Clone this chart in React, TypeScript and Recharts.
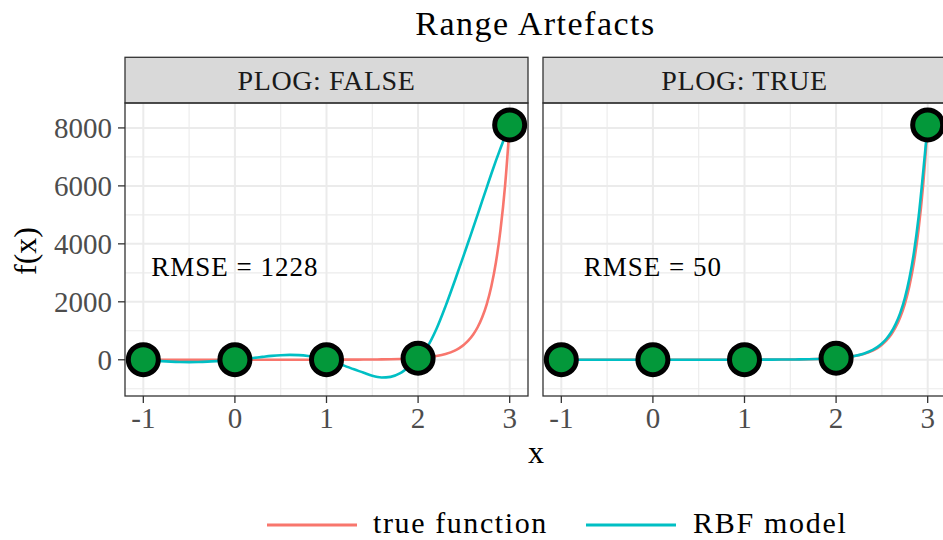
import React from 'react';
import { ComposedChart, Line, Scatter, XAxis, YAxis, CartesianGrid, ReferenceDot } from 'recharts';

// x positions of the drawn curves
const xGrid = [
  -1.0, -0.9, -0.8, -0.7, -0.6, -0.5, -0.4, -0.3, -0.2, -0.1,
  0.0, 0.1, 0.2, 0.3, 0.4, 0.5, 0.6, 0.7, 0.8, 0.9,
  1.0, 1.1, 1.2, 1.3, 1.4, 1.5, 1.6, 1.7, 1.8, 1.9,
  2.0, 2.1, 2.2, 2.3, 2.4, 2.45, 2.5, 2.55, 2.6, 2.65,
  2.7, 2.75, 2.8, 2.85, 2.9, 2.95, 3.0,
];

// true function values
const trueFunction = [
  2.7, 2.2, 1.9, 1.6, 1.4, 1.3, 1.2, 1.1, 1.0, 1.0,
  1.0, 1.0, 1.0, 1.1, 1.2, 1.3, 1.4, 1.6, 1.9, 2.2,
  2.7, 3.4, 4.2, 5.4, 7.1, 9.5, 13, 18, 26, 37,
  55, 82, 127, 198, 317, 405, 518, 667, 863, 1122,
  1466, 1924, 2540, 3367, 4492, 6019, 8103,
];

// RBF model, PLOG: FALSE (teal curve, left panel)
const rbfPlogFalse = [
  3, -25, -48, -65, -76, -80, -76, -64, -45, -22,
  1, 30, 64, 100, 133, 157, 168, 160, 130, 78,
  3, -95, -210, -330, -440, -555, -612, -590, -470, -240,
  55, 440, 1060, 1850, 2720, 3170, 3620, 4080, 4540, 5010,
  5480, 5950, 6420, 6870, 7300, 7710, 8103,
];

// RBF model, PLOG: TRUE (teal curve, right panel)
const rbfPlogTrue = [
  2.7, 2.2, 1.9, 1.6, 1.4, 1.3, 1.2, 1.1, 1.0, 1.0,
  1.0, 1.0, 1.0, 1.1, 1.2, 1.3, 1.4, 1.6, 1.9, 2.2,
  2.7, 3.4, 4.2, 5.4, 7.1, 9.5, 13, 18, 26, 38,
  55, 85, 132, 210, 340, 435, 560, 725, 940, 1230,
  1610, 2120, 2800, 3700, 4900, 6450, 8103,
];

// design points
const designX = [-1, 0, 1, 2, 3];
const designY = [2.7, 1, 2.7, 54.6, 8103];

const xTicks = [-1, 0, 1, 2, 3];
const xMinor = [-0.5, 0.5, 1.5, 2.5];
const yTicks = [0, 2000, 4000, 6000, 8000];
const yMinor = [-1000, 1000, 3000, 5000, 7000];

const panelTitles = ['PLOG: FALSE', 'PLOG: TRUE'];
const rmseLabels = ['RMSE = 1228', 'RMSE = 50'];
const rmseAnchor = { x: 0, y: 2900 };

const seriesNames = ['true function', 'RBF model'];
const RED = '#F8766D';
const TEAL = '#00BFC4';
const GREEN = '#03983A';
const FONT = '"Liberation Serif", "Times New Roman", serif';

const X_DOMAIN: [number, number] = [-1.2, 3.2];
const Y_DOMAIN: [number, number] = [-1250, 8860];

const points = designX.map((x, i) => ({ x, y: designY[i] }));

function buildRows(model: number[]) {
  return xGrid.map((x, i) => ({ x, tru: trueFunction[i], rbf: model[i] }));
}

const PointShape = (props: any) => (
  <circle cx={props.cx} cy={props.cy} r={15} fill={GREEN} stroke="#000" strokeWidth={5} />
);

const RmseLabel = (props: any) => {
  const vb = props.viewBox || {};
  const cx = (vb.x ?? 0) + (vb.width ?? 0) / 2;
  const cy = (vb.y ?? 0) + (vb.height ?? 0) / 2;
  return (
    <text x={cx} y={cy} textAnchor="middle" fontFamily={FONT} fontSize={27} fill="#000" style={{ letterSpacing: '1px' }}>
      {props.text}
    </text>
  );
};

function Panel(props: { model: number[]; rmse: string; showY: boolean; width: number; marginLeft: number; marginRight: number }) {
  const rows = buildRows(props.model);
  return (
    <ComposedChart
      width={props.width}
      height={540}
      data={rows}
      margin={{ top: 103, right: props.marginRight, bottom: 104, left: props.marginLeft }}
    >
      <CartesianGrid horizontalValues={yMinor} verticalValues={xMinor} stroke="#EBEBEB" strokeWidth={1.1} />
      <CartesianGrid horizontalValues={yTicks} verticalValues={xTicks} stroke="#EBEBEB" strokeWidth={2} />
      <XAxis
        type="number"
        dataKey="x"
        domain={X_DOMAIN}
        ticks={xTicks}
        interval={0}
        allowDataOverflow
        height={40}
        axisLine={false}
        tickSize={7}
        tickMargin={4}
        tickLine={{ stroke: '#333333', strokeWidth: 1.3 }}
        tick={{ fontSize: 29, fill: '#4D4D4D', fontFamily: FONT }}
      />
      <YAxis
        type="number"
        domain={Y_DOMAIN}
        ticks={yTicks}
        interval={0}
        allowDataOverflow
        hide={!props.showY}
        width={125}
        axisLine={false}
        tickSize={7}
        tickMargin={6}
        tickLine={{ stroke: '#333333', strokeWidth: 1.3 }}
        tick={{ fontSize: 29, fill: '#4D4D4D', fontFamily: FONT }}
      />
      <Line type="monotone" dataKey="tru" stroke={RED} strokeWidth={2.6} dot={false} isAnimationActive={false} />
      <Line type="monotone" dataKey="rbf" stroke={TEAL} strokeWidth={2.6} dot={false} isAnimationActive={false} />
      <ReferenceDot
        x={rmseAnchor.x}
        y={rmseAnchor.y}
        r={0}
        fill="none"
        stroke="none"
        label={<RmseLabel text={props.rmse} />}
      />
      <Scatter data={points} dataKey="y" shape={PointShape} isAnimationActive={false} />
    </ComposedChart>
  );
}

export default function App() {
  const panelTop = 103;
  const panelH = 293;
  const panels = [
    { left: 125, width: 403 },
    { left: 543, width: 403 },
  ];
  return (
    <div style={{ position: 'absolute', left: 0, top: 0, width: 943, height: 540, overflow: 'hidden', background: '#fff' }}>
      <div style={{ position: 'absolute', left: 0, top: 0 }}>
        <Panel model={rbfPlogFalse} rmse={rmseLabels[0]} showY={true} width={540} marginLeft={0} marginRight={12} />
      </div>
      <div style={{ position: 'absolute', left: 540, top: 0 }}>
        <Panel model={rbfPlogTrue} rmse={rmseLabels[1]} showY={false} width={410} marginLeft={3} marginRight={4} />
      </div>
      <svg width={943} height={540} style={{ position: 'absolute', left: 0, top: 0, pointerEvents: 'none' }}>
        <text x={535.5} y={35} textAnchor="middle" fontFamily={FONT} fontSize={34} fill="#000" style={{ letterSpacing: '1.5px' }}>
          Range Artefacts
        </text>
        {panels.map((p, i) => (
          <g key={i}>
            <rect x={p.left} y={57.3} width={p.width} height={45.7} fill="#D9D9D9" stroke="#333333" strokeWidth={1.3} />
            <text x={p.left + p.width / 2} y={89.5} textAnchor="middle" fontFamily={FONT} fontSize={28} fill="#1A1A1A" style={{ letterSpacing: '0.6px' }}>
              {panelTitles[i]}
            </text>
            <rect x={p.left} y={panelTop} width={p.width} height={panelH} fill="none" stroke="#333333" strokeWidth={1.3} />
          </g>
        ))}
        <text x={536} y={463} textAnchor="middle" fontFamily={FONT} fontSize={32} fill="#000">x</text>
        <text x={36} y={251} textAnchor="middle" fontFamily={FONT} fontSize={32} fill="#000" transform="rotate(-90, 36, 251)">f(x)</text>
        <line x1={267} y1={525} x2={357} y2={525} stroke={RED} strokeWidth={3} />
        <text x={373} y={533} fontFamily={FONT} fontSize={30} fill="#000" style={{ letterSpacing: '1.6px' }}>{seriesNames[0]}</text>
        <line x1={586} y1={525} x2={676} y2={525} stroke={TEAL} strokeWidth={3} />
        <text x={693} y={533} fontFamily={FONT} fontSize={30} fill="#000" style={{ letterSpacing: '1.7px' }}>{seriesNames[1]}</text>
      </svg>
    </div>
  );
}
